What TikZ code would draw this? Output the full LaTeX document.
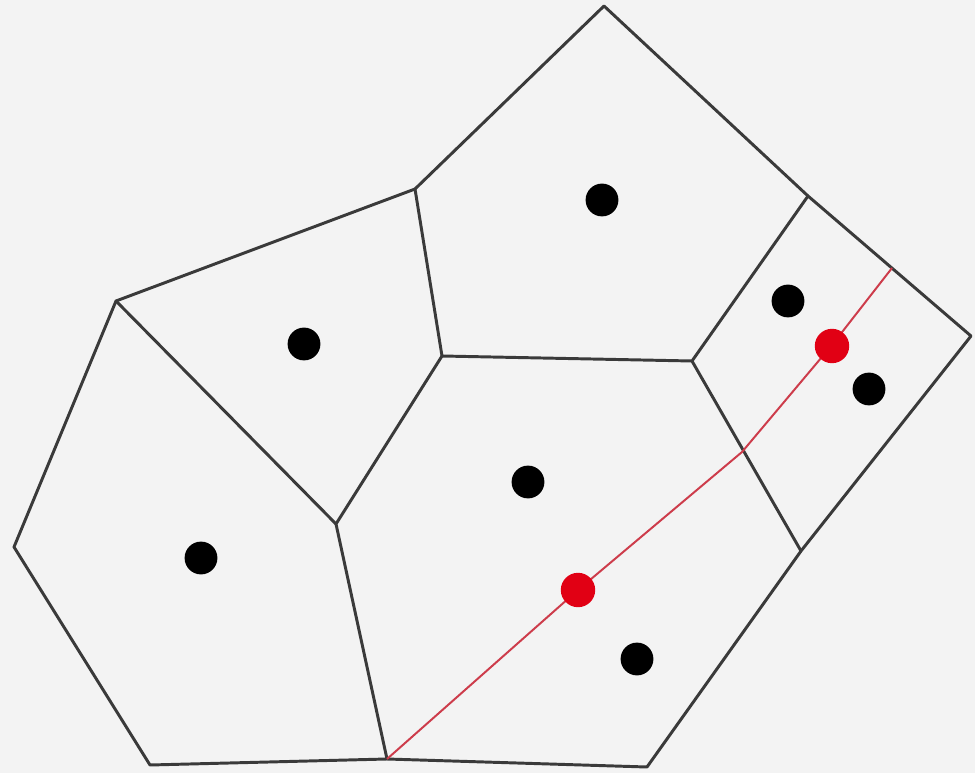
\documentclass[tikz,border=0pt]{standalone}
\usepackage{xcolor}
\usepackage{tikz}
\usetikzlibrary{positioning,calc}

\definecolor{paper}{RGB}{243,243,243}
\definecolor{cellline}{RGB}{58,58,58}
\definecolor{rayred}{RGB}{205,60,75}
\definecolor{hitred}{RGB}{225,0,20}

\begin{document}
\begin{tikzpicture}[
  x=0.25mm,y=-0.25mm,
  edge/.style={draw=cellline,line width=2.1pt,line join=round,line cap=round},
  ray/.style={draw=rayred,line width=1.4pt},
  site/.style={circle,fill=black,inner sep=0pt,minimum size=8.2mm},
  hit/.style={circle,fill=hitred,inner sep=0pt,minimum size=8.6mm}
]
  \fill[paper] (0,0) rectangle (975,773);
  \useasboundingbox (0,0) rectangle (975,773);

  % outer hull
  \coordinate (top)   at (604,6);
  \coordinate (nw)    at (415,189);
  \coordinate (wtop)  at (116,301);
  \coordinate (west)  at (14,547);
  \coordinate (sw)    at (150,765);
  \coordinate (sbot)  at (387,759);
  \coordinate (se)    at (647,767);
  \coordinate (elow)  at (801,551);
  \coordinate (east)  at (971,336);
  \coordinate (ne)    at (808,196);
  % inner vertices
  \coordinate (mid)   at (442,356);
  \coordinate (midr)  at (692,361);
  \coordinate (midl)  at (336,524);

  \draw[edge] (top)--(nw)--(wtop)--(west)--(sw)--(sbot)--(se)--(elow)
              --(east)--(ne)--cycle;
  \draw[edge] (nw)--(mid)--(midr)--(ne);
  \draw[edge] (midr)--(elow);
  \draw[edge] (mid)--(midl)--(sbot);
  \draw[edge] (wtop)--(midl);

  % query path
  \coordinate (rayend) at (892,268);
  \draw[ray] (sbot) -- (578,590) -- (742,452) -- (832,345) -- (rayend);

  % sites
  \node[site] (s1) at (602,200) {};
  \node[site] (s2) at (304,344) {};
  \node[site] (s3) at (528,482) {};
  \node[site] (s4) at (201,558) {};
  \node[site] (s5) at (637,659) {};
  \node[site] (s6) at (788,301) {};
  \node[site] (s7) at (869,389) {};

  \node[hit] (h1) at (578,590) {};
  \node[hit] (h2) at (832,346) {};
\end{tikzpicture}
\end{document}
